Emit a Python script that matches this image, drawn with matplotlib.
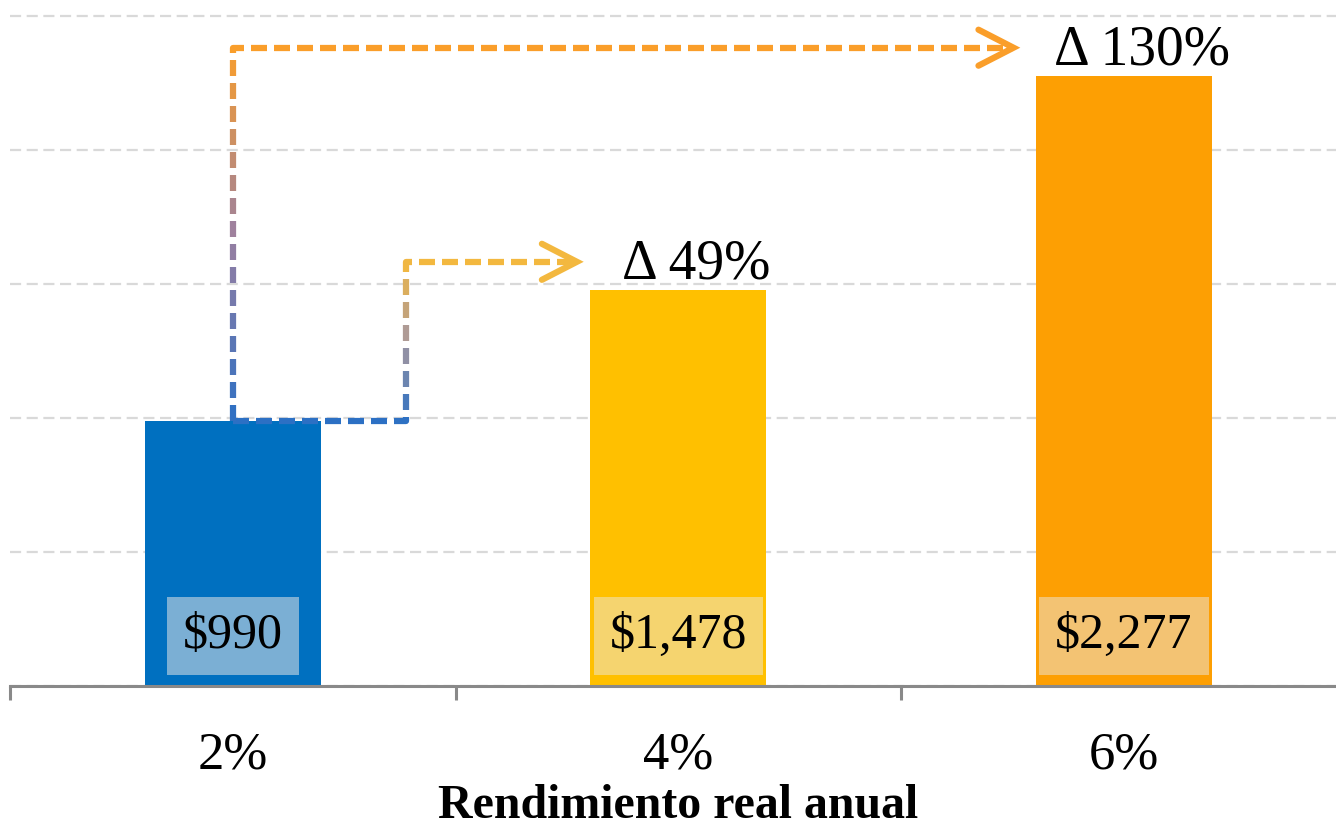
import numpy as np
import matplotlib
matplotlib.use("Agg")
import matplotlib.pyplot as plt
from matplotlib.collections import LineCollection
from matplotlib.colors import to_rgb

categories = ["2%", "4%", "6%"]
values = [990, 1478, 2277]
value_labels = ["$990", "$1,478", "$2,277"]
delta_labels = ["Δ 49%", "Δ 130%"]
xlabel = "Rendimiento real anual"

bar_colors = ["#0070C0", "#FFC000", "#FD9F03"]
box_colors = ["#7BAFD4", "#F5D46F", "#F3C373"]

plt.rcParams['font.family'] = ['Liberation Serif', 'DejaVu Serif']

fig = plt.figure(figsize=(13.36, 8.32), dpi=100)
ax = fig.add_axes([10 / 1336, 146 / 832, 1336.5 / 1336, 686 / 832])
x = np.arange(len(categories))
bar_w = 0.395

ax.bar(x, values, width=bar_w, color=bar_colors, zorder=2)
ax.set_xlim(-0.5, 2.5)
ax.set_ylim(0, 2560)

ax.set_yticks(np.arange(0, 2501, 500))
ax.yaxis.grid(True, color='#D9D9D9', linestyle=(0, (5, 2.5)), linewidth=1.6)
ax.set_axisbelow(True)
ax.tick_params(axis='y', left=False, labelleft=False)
for s in ['left', 'right', 'top']:
    ax.spines[s].set_visible(False)
ax.spines['bottom'].set_color('#898989')
ax.spines['bottom'].set_linewidth(2.2)
ax.spines['bottom'].set_zorder(3)

ax.set_xticks(x)
ax.set_xticklabels(categories, fontsize=38)
ax.tick_params(axis='x', length=0, pad=33)
ax.set_xticks([-0.5, 0.5, 1.5, 2.5], minor=True)
ax.tick_params(axis='x', which='minor', length=10, width=2.2, color='#898989')
ax.set_xlabel(xlabel, fontsize=34.5, fontweight='bold', labelpad=3)

# value boxes near the bottom of each bar
for i, (lab, bc) in enumerate(zip(value_labels, box_colors)):
    ax.text(i, 187, lab, ha='center', va='center', fontsize=36, parse_math=False,
            bbox=dict(boxstyle='square,pad=0.32', fc=bc, ec='none'), zorder=4)

# delta labels above bars 2 and 3
for i, lab in zip([1, 2], delta_labels):
    ax.annotate(lab, xy=(i, values[i]), xytext=(13, 8), textcoords='offset points',
                ha='center', va='baseline', fontsize=40)


def dashed_arrow(ax, xs, ys, stops, lw=4.5, dash=16.0, gap=7.0, head=(35, 18)):
    pts = ax.transData.transform(np.column_stack([xs, ys]))
    seg = np.diff(pts, axis=0)
    seglen = np.hypot(seg[:, 0], seg[:, 1])
    cum = np.concatenate([[0], np.cumsum(seglen)])
    total = cum[-1]
    ylo, yhi = pts[:, 1].min(), pts[:, 1].max()
    stop_rgb = np.array([to_rgb(c) for c in stops])
    stop_pos = np.linspace(0, 1, len(stops))

    def point_at(s):
        k = min(np.searchsorted(cum, s, side='right') - 1, len(seglen) - 1)
        t = (s - cum[k]) / seglen[k]
        return pts[k] + t * seg[k]

    lines, cols = [], []
    s = 0.0
    while s < total:
        e = min(s + dash, total)
        poly = [point_at(s)]
        for c in cum[1:-1]:
            if s < c < e:
                poly.append(point_at(c))
        poly.append(point_at(e))
        poly = np.array(poly)
        mid = poly.mean(axis=0)
        t = np.clip((mid[1] - ylo) / (yhi - ylo), 0, 1)
        cols.append([np.interp(t, stop_pos, stop_rgb[:, j]) for j in range(3)])
        lines.append(ax.transData.inverted().transform(poly))
        s += dash + gap
    ax.add_collection(LineCollection(lines, colors=cols, linewidths=lw,
                                     capstyle='butt', zorder=5))
    # open chevron head
    tip = pts[-1]
    hl, hw = head
    arm = np.array([[tip[0] - hl, tip[1] + hw], tip, [tip[0] - hl, tip[1] - hw]])
    arm = ax.transData.inverted().transform(arm)
    ax.plot(arm[:, 0], arm[:, 1], color=stops[-1], lw=lw, solid_capstyle='round',
            solid_joinstyle='miter', zorder=5)


lift = 105
tip1 = 1 - bar_w / 2 - 0.03
tip2 = 2 - bar_w / 2 - 0.05
dashed_arrow(ax, [0, 0.39, 0.39, tip1],
             [values[0], values[0], values[1] + lift, values[1] + lift],
             ['#2C70C4', '#A8989E', '#F3B83F'])
dashed_arrow(ax, [0, 0, tip2],
             [values[0], values[2] + lift, values[2] + lift],
             ['#2C6FC4', '#9C80A0', '#FA9E2A'])

plt.savefig("out.png", dpi=100)
